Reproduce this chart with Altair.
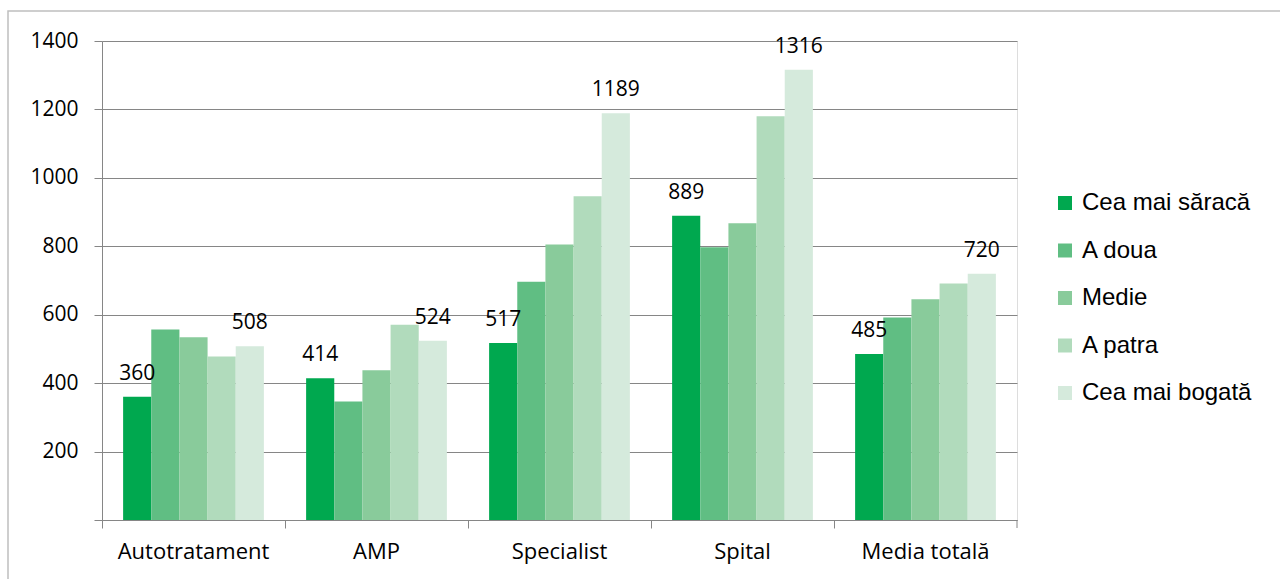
import altair as alt
import pandas as pd

categories = ["Autotratament", "AMP", "Specialist", "Spital", "Media totală"]
series = ["Cea mai săracă", "A doua", "Medie", "A patra", "Cea mai bogată"]
colors = ["#00A84F", "#60BE83", "#89CB9B", "#B1DBBC", "#D5EADC"]

s1 = [360, 414, 517, 889, 485]
s2 = [557, 346, 696, 797, 592]
s3 = [534, 438, 805, 867, 645]
s4 = [478, 571, 946, 1180, 691]
s5 = [508, 524, 1189, 1316, 720]
y_ticks = [0, 200, 400, 600, 800, 1000, 1200, 1400]

rows = []
for s, vals in zip(series, [s1, s2, s3, s4, s5]):
    for c, v in zip(categories, vals):
        rows.append({"cat": c, "series": s, "value": v})
df = pd.DataFrame(rows)

FONT = "Open Sans"
LEGFONT = "Liberation Sans"
W, H = 915, 479

x_enc = alt.X("cat:N", sort=categories, title=None,
              scale=alt.Scale(paddingInner=0, paddingOuter=0),
              axis=alt.Axis(labelAngle=0, labelFontSize=22, labelFont=FONT, labelColor="#000000",
                            labelPadding=13, tickSize=8, tickColor="#868686", domainColor="#868686",
                            bandPosition=0, grid=False, labelLimit=300))
xoff = alt.XOffset("series:N", sort=series,
                   scale=alt.Scale(paddingInner=0, paddingOuter=0.75))
y_enc = alt.Y("value:Q", title=None,
              scale=alt.Scale(domain=[0, 1400], nice=False),
              axis=alt.Axis(values=y_ticks, format="d", labelFontSize=21, labelFont=FONT,
                            labelColor="#000000",
                            labelPadding=16, tickSize=8, tickColor="#868686", domainColor="#868686",
                            gridColor="#868686", grid=True,
                            labelExpr="datum.value == 0 ? '' : datum.label"))

bars = alt.Chart(df).mark_bar().encode(
    x=x_enc, xOffset=xoff, y=y_enc,
    color=alt.Color("series:N", sort=series,
                    scale=alt.Scale(domain=series, range=colors),
                    legend=alt.Legend(title=None, orient="none", legendX=951, legendY=150,
                                      symbolType="square", symbolSize=196, symbolStrokeWidth=0,
                                      labelFontSize=24, labelFont=LEGFONT, labelColor="#000000",
                                      rowPadding=23.5, labelOffset=5, labelLimit=400)),
)

labels = alt.Chart(df).transform_filter(
    alt.FieldOneOfPredicate(field="series", oneOf=[series[0], series[4]])
).mark_text(baseline="bottom", dy=-13, fontSize=21, font=FONT, color="#000000").encode(
    x=alt.X("cat:N", sort=categories), xOffset=xoff, y=alt.Y("value:Q"),
    text=alt.Text("value:Q", format="d"),
)

end_tick = alt.Chart(df).mark_rule(color="#868686").encode(
    x=alt.value(W), y=alt.value(H), y2=alt.value(H + 8)
).transform_filter("datum.series == 'A doua' && datum.cat == 'AMP'")

border = alt.Chart(df).mark_rect(fill=None, stroke="#BFBFBF", strokeWidth=1.5).encode(
    x=alt.value(-94), x2=alt.value(1400), y=alt.value(-30), y2=alt.value(700)
).transform_filter("datum.series == 'A doua' && datum.cat == 'AMP'")

chart = alt.layer(border, bars, labels, end_tick).properties(
    width=W, height=H,
    autosize=alt.AutoSizeParams(type="none"),
    padding={"left": 102, "top": 41, "right": 263, "bottom": 59},
).configure_view(stroke=None).configure(background="#ffffff")

chart.save("out.html", embed_options={"renderer": "svg", "actions": False})
